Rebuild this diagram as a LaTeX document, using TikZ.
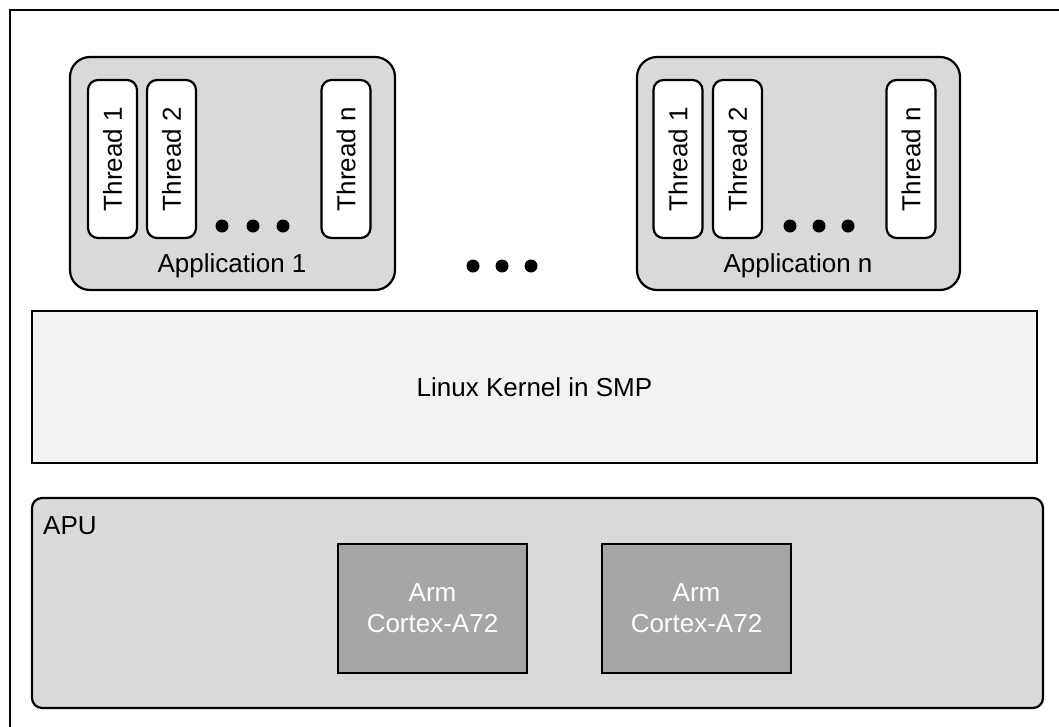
\documentclass[tikz,border=0pt]{standalone}
\usepackage{fontspec}
\setmainfont{Liberation Sans}
\definecolor{appgray}{HTML}{D9D9D9}
\definecolor{kernelgray}{HTML}{F2F2F2}
\definecolor{armgray}{HTML}{A6A6A6}
\begin{document}
\begin{tikzpicture}[x=1pt,y=-1pt,
  every node/.style={font=\fontsize{26}{31}\selectfont, text=black},
  appbox/.style={draw=black, line width=2.2pt, fill=appgray, rounded corners=20pt, inner sep=0pt},
  threadbox/.style={draw=black, line width=2.2pt, fill=white, rounded corners=10pt, inner sep=0pt,
    minimum width=49pt, minimum height=158pt},
  threadtext/.style={rotate=90, inner sep=0pt},
  dotmark/.style={circle, fill=black, inner sep=0pt, minimum size=13pt},
  kernelbox/.style={draw=black, line width=2.2pt, fill=kernelgray, inner sep=0pt},
  apubox/.style={draw=black, line width=2.2pt, fill=appgray, rounded corners=10pt, inner sep=0pt},
  armbox/.style={draw=black, line width=2.2pt, fill=armgray, inner sep=0pt, text=white, align=center,
    minimum width=189pt, minimum height=129pt},
  frame/.style={draw=black, line width=2.2pt}
]
\useasboundingbox (0,0) rectangle (1059,726);
% outer frame (only top and left visible)
\coordinate (fbl) at (10,730);
\coordinate (ftl) at (10,10);
\coordinate (ftr) at (1063,10);
\draw[frame] (fbl) -- (ftl) -- (ftr);

% Application 1
\node[appbox, minimum width=325pt, minimum height=233pt] (app1) at (232.5,173.5) {};
\node[threadbox] (a1t1) at (112.5,159) {};
\node[threadtext] at (a1t1.center) {Thread 1};
\node[threadbox] (a1t2) at (171.5,159) {};
\node[threadtext] at (a1t2.center) {Thread 2};
\node[threadbox] (a1tn) at (346,159) {};
\node[threadtext] at (a1tn.center) {Thread n};
\node[dotmark] (a1d1) at (222,226) {};
\node[dotmark] (a1d2) at (253,226) {};
\node[dotmark] (a1d3) at (283,226) {};
\node (a1lab) at (232,266) {Application 1};

% middle dots
\node[dotmark] (md1) at (473,266) {};
\node[dotmark] (md2) at (502,266) {};
\node[dotmark] (md3) at (531,266) {};

% Application n
\node[appbox, minimum width=323pt, minimum height=233pt] (appn) at (798.5,173.5) {};
\node[threadbox] (ant1) at (678,159) {};
\node[threadtext] at (ant1.center) {Thread 1};
\node[threadbox] (ant2) at (737.5,159) {};
\node[threadtext] at (ant2.center) {Thread 2};
\node[threadbox] (antn) at (911,159) {};
\node[threadtext] at (antn.center) {Thread n};
\node[dotmark] (and1) at (790,226) {};
\node[dotmark] (and2) at (819,226) {};
\node[dotmark] (and3) at (848,226) {};
\node (anlab) at (798,266) {Application n};

% Kernel
\node[kernelbox, minimum width=1005pt, minimum height=152pt] (kernel) at (534.5,387) {Linux Kernel in SMP};

% APU
\node[apubox, minimum width=1011pt, minimum height=210pt] (apu) at (537.5,603) {};
\node[anchor=base west, inner sep=0pt] (apulab) at (43,534) {APU};
\node[armbox] (arm1) at (432.5,608.5) {Arm\\Cortex-A72};
\node[armbox] (arm2) at (696.5,608.5) {Arm\\Cortex-A72};
\end{tikzpicture}
\end{document}
